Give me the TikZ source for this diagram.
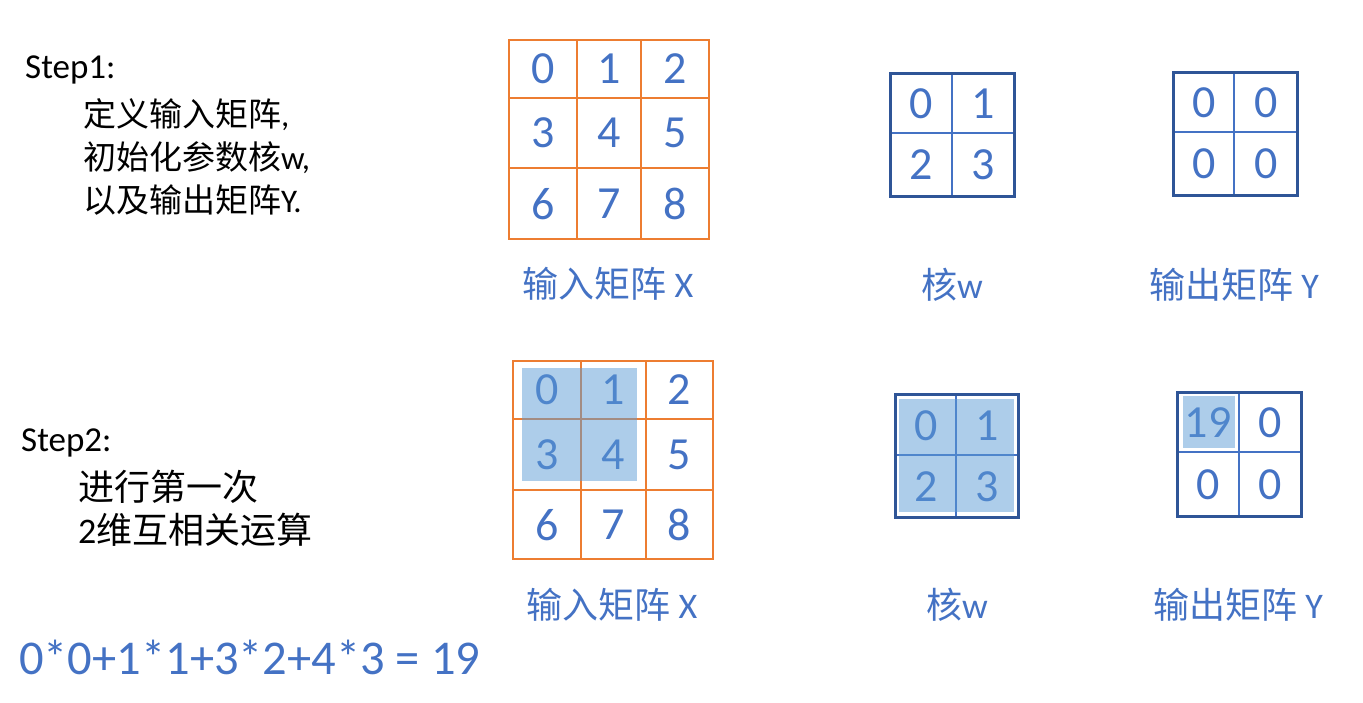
\documentclass[tikz,border=0pt]{standalone}
\usepackage{fontspec}
\setmainfont{Carlito}
\newfontfamily\cjk{Noto Sans CJK SC}
\definecolor{txtblue}{HTML}{4472C4}
\definecolor{gridorange}{HTML}{ED7D31}
\definecolor{darkblue}{HTML}{2F5597}
\definecolor{hl}{HTML}{5B9BD5}
\begin{document}
\begin{tikzpicture}[x=1pt,y=-1pt,
 digit/.style={text=txtblue,font=\fontsize{46}{54}\selectfont,inner sep=0pt},
 lbl/.style={text=txtblue,font=\fontsize{36}{42}\selectfont,inner sep=0pt},
 steptext/.style={font=\fontsize{33}{40}\selectfont,inner sep=0pt,anchor=west},
 steptwo/.style={font=\fontsize{36}{42}\selectfont,inner sep=0pt,anchor=west},
 formula/.style={text=txtblue,font=\fontsize{48.5}{56}\selectfont,inner sep=0pt,anchor=west},
 ogrid/.style={draw=gridorange,line width=2pt},
 kborder/.style={draw=darkblue,line width=3pt},
 kinner/.style={draw=txtblue,line width=1.5pt},
 hlbox/.style={fill=hl,fill opacity=0.5}]
\useasboundingbox (0,0) rectangle (1363,702);

% ---------- Step 1 text ----------
\node[steptext,font=\fontsize{35}{40}\selectfont] (s1) at (25,70) {Step1:};
\node[steptext] (s1a) at (83,115) {{\cjk 定义输入矩阵},};
\node[steptext] (s1b) at (83,158) {{\cjk 初始化参数核}w,};
\node[steptext] (s1c) at (83,200) {{\cjk 以及输出矩阵}Y.};

% ---------- Step 1 : input X ----------
\draw[ogrid] (509,40) rectangle (709,239);
\draw[ogrid] (577,40) -- (577,239) (641,40) -- (641,239)
             (509,98) -- (709,98) (509,168) -- (709,168);
\node[digit] (x00) at (543,69) {0};
\node[digit] (x01) at (609,69) {1};
\node[digit] (x02) at (675,69) {2};
\node[digit] (x10) at (543,133) {3};
\node[digit] (x11) at (609,133) {4};
\node[digit] (x12) at (675,133) {5};
\node[digit] (x20) at (543,204) {6};
\node[digit] (x21) at (609,204) {7};
\node[digit] (x22) at (675,204) {8};
\node[lbl] (lx1) at (608,284) {{\cjk 输入矩阵} X};

% ---------- Step 1 : kernel ----------
\draw[kinner] (952,73) -- (952,196) (890,133) -- (1014,133);
\draw[kborder] (890,73) rectangle (1014,196);
\node[digit] (k00) at (921,104) {0};
\node[digit] (k01) at (983,104) {1};
\node[digit] (k10) at (921,165) {2};
\node[digit] (k11) at (983,165) {3};
\node[lbl] (lk1) at (952,285) {{\cjk 核}w};

% ---------- Step 1 : output ----------
\draw[kinner] (1234,72) -- (1234,195) (1173,132) -- (1297,132);
\draw[kborder] (1173,72) rectangle (1297,195);
\node[digit] (y00) at (1204,103) {0};
\node[digit] (y01) at (1266,103) {0};
\node[digit] (y10) at (1204,164) {0};
\node[digit] (y11) at (1266,164) {0};
\node[lbl] (ly1) at (1234,285) {{\cjk 输出矩阵} Y};

% ---------- Step 2 text ----------
\node[steptext,font=\fontsize{35}{40}\selectfont] (s2) at (21,443) {Step2:};
\node[steptwo] (s2a) at (78,487) {{\cjk 进行第一次}};
\node[steptwo] (s2b) at (78,530) {2{\cjk 维互相关运算}};
\node[formula] (f) at (19,657) {0*0+1*1+3*2+4*3 = 19};

% ---------- Step 2 : input X ----------
\draw[ogrid] (513,361) rectangle (713,559);
\draw[ogrid] (581,361) -- (581,559) (646,361) -- (646,559)
             (513,419) -- (713,419) (513,490) -- (713,490);
\node[digit] (X00) at (547,390) {0};
\node[digit] (X01) at (613,390) {1};
\node[digit] (X02) at (679,390) {2};
\node[digit] (X10) at (547,455) {3};
\node[digit] (X11) at (613,455) {4};
\node[digit] (X12) at (679,455) {5};
\node[digit] (X20) at (547,525) {6};
\node[digit] (X21) at (613,525) {7};
\node[digit] (X22) at (679,525) {8};
\fill[hlbox] (522,368) rectangle (637,481);
\node[lbl] (lx2) at (612,605) {{\cjk 输入矩阵} X};

% ---------- Step 2 : kernel ----------
\draw[kinner] (956,394) -- (956,517) (895,455) -- (1018,455);
\draw[kborder] (895,394) rectangle (1018,517);
\node[digit] (K00) at (926,426) {0};
\node[digit] (K01) at (987,426) {1};
\node[digit] (K10) at (926,487) {2};
\node[digit] (K11) at (987,487) {3};
\fill[hlbox] (899,399) rectangle (1014,512);
\node[lbl] (lk2) at (957,605) {{\cjk 核}w};

% ---------- Step 2 : output ----------
\draw[kinner] (1239,392) -- (1239,516) (1177,452) -- (1301,452);
\draw[kborder] (1177,392) rectangle (1301,516);
\node[digit] (Y00) at (1208,423) {19};
\node[digit] (Y01) at (1270,423) {0};
\node[digit] (Y10) at (1208,485) {0};
\node[digit] (Y11) at (1270,485) {0};
\fill[hlbox] (1183,396) rectangle (1235,448);
\node[lbl] (ly2) at (1238,605) {{\cjk 输出矩阵} Y};
\end{tikzpicture}
\end{document}
